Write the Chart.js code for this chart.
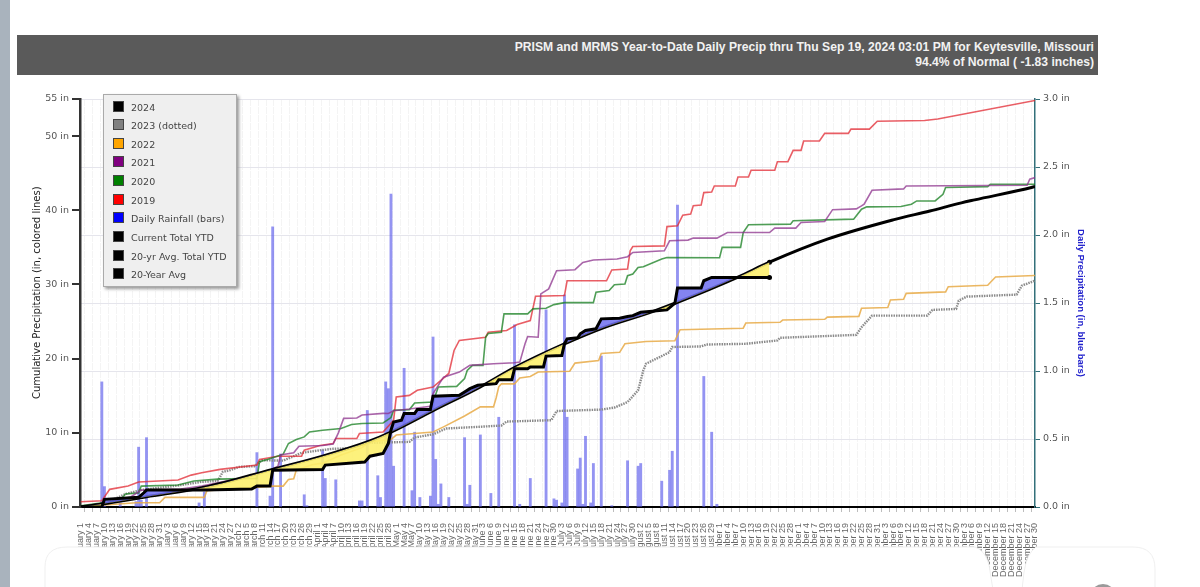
<!DOCTYPE html>
<html>
<head>
<meta charset="utf-8">
<title>Keytesville precip</title>
<script src="https://cdn.jsdelivr.net/npm/chart.js@4/dist/chart.umd.min.js"></script>
<style>
  html, body { margin: 0; padding: 0; background: #fff; overflow: hidden; }
  #page { position: relative; width: 1200px; height: 587px; overflow: hidden; }
  #stripe { position: absolute; left: 0; top: 0; width: 10px; height: 587px; background: #a9b3bd; }
  #header { position: absolute; left: 17px; top: 35px; width: 1077px; height: 35px; padding: 5px 4px 0 0; background: #5a5a5a;
    color: #f2f2f2; font: bold 12.15px/15px "Liberation Sans", sans-serif; text-align: right; }
  #chartCanvas { position: absolute; left: 0; top: 0; }
  #leftTitle { position: absolute; left: 31px; top: 187px; height: 212px; width: 12px; writing-mode: vertical-rl; transform: rotate(180deg);
    color: #222; font: 10px/12px "DejaVu Sans", sans-serif; text-align: center; white-space: nowrap; }
  #legend { position: absolute; left: 103px; top: 94px; width: 132px; height: 191px; background: #efefef;
    border: 1px solid #aaa; box-shadow: 2px 2px 3px #999; }
  #legend div { position: absolute; left: 9px; height: 12px; color: #444; font: 9.5px/11px "DejaVu Sans", sans-serif; white-space: nowrap; }
  #legend span { display: inline-block; width: 9px; height: 9px; border: 1px solid #444; margin-right: 7px; vertical-align: -1px; }
  #cards { position: absolute; left: 0; top: 0; pointer-events: none; }
</style>
</head>
<body>
<div id="page">
  <div id="stripe"></div>
  <div id="header">PRISM and MRMS Year-to-Date Daily Precip thru Thu Sep 19, 2024 03:01 PM for Keytesville, Missouri<br>94.4% of Normal ( -1.83 inches)</div>
  <canvas id="chartCanvas" width="1200" height="587"></canvas>
  <div id="leftTitle">Cumulative Precipitation (in, colored lines)</div>
  <div id="legend"></div>
  <svg id="cards" width="1200" height="587">
    <path d="M45 590 V567 Q45 547 67 547 H975 Q985 550 989 565 L993 590 Z" fill="#fff" stroke="#efefef"/>
    <path d="M1022 590 L1024 572 Q1027 553 1036 547 H1133 Q1155 547 1155 569 V590 Z" fill="#fff" stroke="#efefef"/>
    <circle cx="1103" cy="597" r="13" fill="#9a9a9a"/>
  </svg>
</div>

<script>
// day = days since Jan 1, values in inches
const monthNames = ["January", "February", "March", "April", "May", "June", "July", "August", "September", "October", "November", "December"];
const monthLengths = [31, 28, 31, 30, 31, 30, 31, 31, 30, 31, 30, 31];
const tickStep = 3;
const lastTickDay = 363;

const leftTicks = [0, 10, 20, 30, 40, 50, 55];
const rightTicks = [0, 0.5, 1, 1.5, 2, 2.5, 3];

const legendNames = ["2024", "2023 (dotted)", "2022", "2021", "2020", "2019", "Daily Rainfall (bars)", "Current Total YTD", "20-yr Avg. Total YTD", "20-Year Avg"];
const legendColors = ["#000", "#808080", "#ffa500", "#800080", "#008000", "#f00", "#00f", "#000", "#000", "#000"];

const rainDays = [8, 9, 15, 21, 22, 23, 25, 45, 47, 67, 72, 73, 76, 85, 86, 92, 93, 97, 106, 107, 109, 113, 114, 116, 117, 118, 119, 123, 126, 127, 129, 133, 134, 135, 136, 137, 140, 146, 147, 148, 152, 156, 159, 165, 167, 171, 177, 180, 181, 183, 184, 185, 189, 190, 191, 192, 194, 195, 198, 202, 208, 212, 213, 221, 224, 225, 227, 237, 240, 242];
const rainInches = [0.92, 0.15, 0.03, 0.04, 0.44, 0.05, 0.51, 0.03, 0.11, 0.40, 0.08, 2.06, 0.39, 0.09, 0.01, 0.42, 0.21, 0.20, 0.045, 0.045, 0.71, 0.23, 0.07, 0.92, 0.87, 2.30, 0.30, 1.02, 0.12, 0.55, 0.07, 0.08, 1.25, 0.35, 0.02, 0.17, 0.07, 0.51, 0.02, 0.16, 0.53, 0.10, 0.66, 1.34, 0.02, 0.21, 1.45, 0.06, 0.05, 0.03, 1.56, 0.66, 0.28, 0.36, 0.02, 0.52, 0.03, 0.32, 1.11, 0.01, 0.34, 0.30, 0.32, 0.19, 0.27, 0.41, 2.22, 0.96, 0.55, 0.02];

const avgDays = [0, 8, 25, 47, 73, 92, 110, 118, 134, 152, 165, 184, 199, 218, 227, 250, 262, 284, 309, 323, 335, 340, 362, 363];
const avgInches = [0, 0.4, 1.38, 2.65, 5.07, 6.85, 8.9, 10.1, 13.0, 16.2, 18.8, 22.0, 24.2, 26.4, 27.6, 31.0, 33.0, 36.1, 38.7, 39.9, 41.0, 41.4, 43.1, 43.2];

const days2024 = [0, 8, 9, 22, 24, 25, 47, 65, 67, 72, 73, 92, 93, 108, 110, 115, 117, 118, 119, 122, 123, 127, 128, 133, 134, 144, 146, 148, 151, 158, 159, 164, 165, 170, 171, 176, 177, 183, 184, 185, 189, 190, 192, 196, 198, 205, 208, 210, 213, 223, 226, 227, 236, 237, 240, 262];
const inches2024 = [0, 0, 1.03, 1.3, 1.92, 2.28, 2.28, 2.42, 2.82, 2.82, 4.97, 5.04, 5.65, 6.05, 6.85, 7.22, 8.56, 10.35, 11.47, 11.7, 12.6, 12.6, 13.13, 13.13, 14.92, 15.05, 15.5, 15.95, 16.4, 16.63, 17.16, 17.16, 18.64, 18.64, 18.86, 18.86, 20.34, 20.43, 22.0, 22.67, 22.81, 23.35, 23.79, 24.02, 25.36, 25.44, 25.67, 25.8, 26.25, 26.57, 27.46, 29.53, 29.53, 30.5, 30.95, 30.95];

const days2023 = [0, 8, 17, 23, 37, 46, 52, 53, 54, 57, 60, 66, 69, 77, 84, 90, 96, 102, 110, 125, 127, 134, 139, 151, 160, 162, 179, 181, 198, 203, 208, 212, 214, 215, 224, 225, 236, 238, 253, 265, 266, 295, 297, 301, 322, 324, 333, 334, 337, 356, 358, 363];
const inches2023 = [0, 0.3, 1.75, 2.3, 2.9, 3.4, 3.5, 4.07, 4.74, 4.97, 5.4, 5.5, 6.3, 6.25, 7.3, 7.6, 7.85, 7.9, 8.64, 8.78, 9.37, 9.8, 10.58, 10.8, 10.98, 11.52, 11.7, 12.94, 13.13, 13.4, 14.15, 15.73, 18.41, 19.31, 20.87, 21.57, 21.64, 21.9, 22.0, 22.45, 22.81, 23.2, 24.23, 25.8, 25.8, 26.57, 26.7, 27.82, 28.36, 28.63, 29.84, 30.5];

const days2022 = [0, 9, 21, 30, 32, 47, 48, 73, 77, 79, 81, 82, 88, 92, 99, 107, 110, 118, 120, 134, 138, 146, 152, 157, 158, 159, 160, 165, 167, 171, 174, 186, 188, 197, 198, 205, 207, 215, 226, 228, 252, 253, 266, 267, 283, 284, 296, 297, 307, 308, 313, 314, 329, 330, 345, 348, 363];
const inches2022 = [0, 0.27, 0.57, 0.57, 1.3, 1.3, 2.2, 2.82, 2.82, 3.7, 3.8, 5.0, 5.7, 5.91, 7.0, 8.0, 8.78, 9.1, 9.7, 10.1, 10.8, 12.27, 13.5, 13.5, 14.7, 16.2, 16.6, 16.6, 17.4, 17.6, 18.2, 18.3, 19.4, 19.75, 20.7, 20.85, 22.0, 22.3, 22.4, 23.9, 24.1, 24.8, 24.9, 25.2, 25.3, 25.6, 25.7, 26.8, 26.9, 27.9, 28.0, 28.8, 29.0, 29.7, 29.9, 31.0, 31.2];

const days2021 = [0, 9, 19, 23, 38, 46, 61, 72, 75, 76, 81, 83, 92, 96, 98, 100, 105, 107, 115, 117, 119, 125, 133, 134, 136, 138, 144, 148, 157, 165, 167, 169, 170, 174, 175, 178, 181, 188, 191, 195, 204, 208, 210, 222, 224, 231, 233, 242, 246, 262, 264, 272, 274, 283, 286, 295, 297, 298, 301, 313, 314, 360, 361, 363];
const inches2021 = [0, 0.5, 1.35, 2.28, 2.42, 2.82, 3.9, 4.97, 5.5, 7.0, 7.3, 8.2, 8.3, 8.5, 10.0, 11.95, 12.0, 12.4, 12.62, 12.6, 12.98, 13.2, 13.57, 15.28, 16.4, 17.5, 18.19, 19.09, 19.31, 19.45, 19.53, 22.0, 22.98, 22.89, 28.72, 29.4, 31.85, 31.99, 32.97, 33.29, 33.43, 33.74, 34.31, 34.54, 35.89, 35.98, 36.25, 36.25, 37.0, 37.0, 37.59, 37.59, 38.35, 38.48, 40.08, 40.19, 40.59, 40.82, 42.7, 42.88, 43.28, 43.37, 44.18, 44.4];

const days2020 = [0, 15, 17, 22, 23, 37, 43, 52, 67, 68, 71, 77, 79, 82, 85, 87, 92, 99, 103, 107, 115, 118, 119, 125, 127, 134, 136, 143, 146, 147, 149, 153, 154, 155, 160, 161, 170, 172, 177, 180, 184, 195, 196, 201, 203, 207, 208, 210, 212, 214, 221, 223, 243, 244, 251, 252, 254, 270, 271, 294, 297, 299, 312, 316, 318, 325, 328, 329, 345, 346, 363];
const inches2020 = [0.15, 0.9, 1.75, 1.9, 2.82, 2.96, 3.5, 3.76, 3.86, 6.1, 6.41, 7.12, 8.56, 9.1, 9.45, 10.12, 10.35, 10.58, 11.12, 11.25, 11.33, 12.06, 13.04, 13.13, 14.02, 14.15, 16.17, 16.26, 17.3, 18.41, 19.09, 19.09, 22.89, 23.39, 23.56, 26.03, 26.03, 26.71, 26.79, 27.28, 27.55, 27.55, 28.94, 29.17, 29.97, 30.07, 31.18, 31.41, 32.3, 32.39, 33.43, 33.64, 33.6, 35.0, 35.0, 37.0, 38.04, 38.13, 38.58, 38.8, 40.15, 40.46, 40.5, 40.82, 41.26, 41.26, 42.16, 43.08, 43.19, 43.51, 43.51];

const days2019 = [0, 8, 11, 18, 22, 37, 42, 46, 53, 67, 68, 75, 84, 85, 91, 96, 97, 105, 106, 115, 119, 120, 125, 128, 134, 137, 140, 142, 144, 154, 155, 162, 166, 171, 173, 184, 185, 200, 202, 208, 209, 210, 222, 223, 227, 229, 232, 233, 236, 237, 240, 241, 249, 250, 254, 255, 264, 265, 269, 271, 274, 275, 281, 283, 292, 293, 300, 303, 321, 326, 363];
const inches2019 = [0.71, 0.85, 2.38, 2.82, 3.36, 3.63, 4.3, 4.61, 5.07, 5.65, 6.41, 6.85, 6.85, 7.66, 8.29, 8.56, 9.23, 9.23, 9.9, 10.12, 11.69, 14.83, 15.05, 15.73, 16.17, 17.07, 18.0, 21.1, 22.45, 22.89, 23.56, 23.79, 24.6, 25.13, 28.4, 28.5, 30.5, 30.5, 31.95, 32.08, 34.54, 35.12, 35.2, 37.8, 37.9, 39.34, 39.48, 40.6, 40.7, 42.38, 42.47, 43.28, 43.28, 44.49, 44.49, 45.39, 45.39, 46.55, 46.55, 48.08, 48.08, 49.33, 49.33, 50.36, 50.36, 50.94, 50.94, 52.0, 52.1, 52.3, 54.8];

const currentEndDay = 262;

// "January 1", "January 4", ... every third day
const tickDays = [];
const tickLabels = [];
for (let day = 0; day <= lastTickDay; day += tickStep) {
  let month = 0;
  let left = day;
  while (left >= monthLengths[month]) { left -= monthLengths[month]; month++; }
  tickDays.push(day);
  tickLabels.push(`${monthNames[month]} ${left + 1}`);
}

function toPoints(days, values) {
  return days.map((d, i) => ({ x: d, y: values[i] }));
}

function yearLine(label, days, values, color) {
  return { type: "line", label: label, data: toPoints(days, values), borderColor: color, borderWidth: 1.6, pointRadius: 0, tension: 0, fill: false, yAxisID: "y", order: 5 };
}

// Legend is plain html, it sits on top of the plot
legendNames.forEach((name, i) => {
  const row = document.createElement("div");
  row.style.top = (5.5 + i * 18.65) + "px";
  row.innerHTML = `<span style="background:${legendColors[i]}"></span>${name}`;
  document.getElementById("legend").appendChild(row);
});

const endDot = ctx => ctx.parsed.x === currentEndDay ? 2.5 : 0;

new Chart(document.getElementById("chartCanvas"), {
  type: "line",
  data: {
    datasets: [
      { type: "line", label: "Current Total YTD", data: toPoints(days2024, inches2024), borderColor: "#000", borderWidth: 3, pointRadius: endDot, pointBackgroundColor: "#000", pointBorderWidth: 0, tension: 0, yAxisID: "y", order: 1,
        fill: { target: 1, above: "rgba(110, 110, 240, 0.85)", below: "rgba(253, 240, 110, 0.9)" } },
      { type: "line", label: "20-yr Avg. Total YTD", data: toPoints(avgDays, avgInches), borderColor: "#000", borderWidth: 3, pointRadius: endDot, pointBackgroundColor: "#000", pointBorderWidth: 0, cubicInterpolationMode: "monotone", fill: false, yAxisID: "y", order: 2 },
      Object.assign(yearLine("2023 (dotted)", days2023, inches2023, "#8a8a8a"), { borderWidth: 2.4, borderDash: [1.5, 1], order: 6 }),
      yearLine("2022", days2022, inches2022, "rgba(232, 170, 70, 0.85)"),
      yearLine("2021", days2021, inches2021, "rgba(140, 50, 140, 0.75)"),
      yearLine("2020", days2020, inches2020, "rgba(20, 125, 30, 0.75)"),
      yearLine("2019", days2019, inches2019, "rgba(225, 40, 50, 0.75)"),
      { type: "bar", label: "Daily Rainfall (bars)", data: toPoints(rainDays, rainInches), backgroundColor: "rgba(90, 90, 235, 0.65)", barThickness: 2.2, yAxisID: "yRain", order: 10 },
    ]
  },
  options: {
    responsive: false,
    animation: false,
    layout: { padding: { left: 30, right: 114, top: 99, bottom: 0 } },
    plugins: { legend: { display: false }, tooltip: { enabled: false } },
    scales: {
      x: {
        type: "linear",
        min: -0.3,
        max: lastTickDay,
        offset: false,
        afterBuildTicks: scale => { scale.ticks = tickDays.map(d => ({ value: d })); },
        afterFit: scale => { scale.height = 80; },
        grid: { color: "#f4f4f4", tickColor: "#bdbdbd", tickLength: 5 },
        border: { color: "#000", width: 2, dash: [7, 1] },
        ticks: {
          autoSkip: false,
          minRotation: 90,
          maxRotation: 90,
          padding: 11,
          color: "#666",
          font: { family: "Liberation Sans", size: 9 },
          callback: (value, i) => tickLabels[i],
        },
      },
      y: {
        position: "left",
        min: 0,
        max: 55,
        afterBuildTicks: scale => { scale.ticks = leftTicks.map(v => ({ value: v })); },
        afterFit: scale => { scale.width = 50; },
        grid: { drawOnChartArea: false, tickColor: "#333", tickLength: 8, lineWidth: 2 },
        border: { color: "#333", width: 2.5 },
        ticks: { color: "#555", padding: 3, font: { family: "DejaVu Sans", size: 9.5 }, callback: v => `${v} in` },
      },
      yRain: {
        position: "right",
        min: 0,
        max: 3,
        afterBuildTicks: scale => { scale.ticks = rightTicks.map(v => ({ value: v })); },
        afterFit: scale => { scale.width = 51; },
        grid: { color: "#e5e5ec", tickColor: "#33707a", tickLength: 5 },
        border: { color: "#33707a", width: 1.5 },
        ticks: { color: "#555", padding: 3, font: { family: "DejaVu Sans", size: 9.5 }, callback: v => `${v.toFixed(1)} in` },
        title: { display: true, text: "Daily Precipitation (in, blue bars)", color: "#2222cc", font: { family: "Liberation Sans", size: 9.5, weight: "bold" }, padding: 0 },
      },
    },
  },
});
</script>
</body>
</html>
